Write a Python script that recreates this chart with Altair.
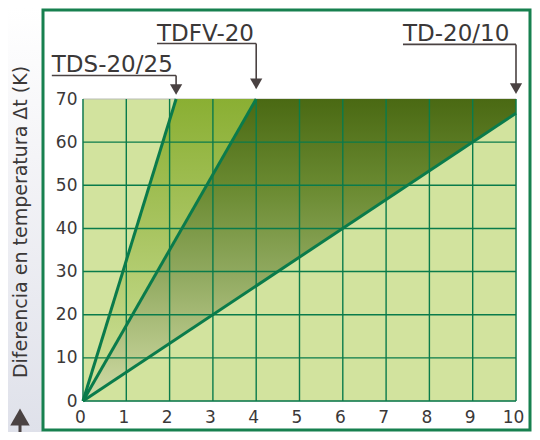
import altair as alt
import pandas as pd

# ---- data ----
x_ticks = [0, 1, 2, 3, 4, 5, 6, 7, 8, 9, 10]
y_ticks = [0, 10, 20, 30, 40, 50, 60, 70]
series = ["TDS-20/25", "TDFV-20", "TD-20/10"]
end_x = [2.15, 4.0, 10.0]
end_y = [70, 70, 66.7]

# medium band (between TDS-20/25 and TDFV-20)
mid_x = [0, 2.15, 4.0]
mid_top = [0, 70, 70]
mid_bot = [0, 37.6, 70]
# dark band (between TDFV-20 and TD-20/10)
dark_x = [0, 4.0, 10.0]
dark_top = [0, 70, 70]
dark_bot = [0, 26.7, 66.7]

# annotation anchors (data units)
lab_x0 = [-0.72, 1.71, 7.39]
lab_line_y = [75.45, 82.85, 82.65]
lab_text_y = [76.3, 83.35, 83.35]
lab_head_y = [72.2, 73.5, 72.4]

FONT = "DejaVu Sans"
TXT = "#3b3838"
ARW = "#4a4242"
GREEN = "#0a7b4b"

W, H = 433, 302
xs = alt.Scale(domain=[0, 10], nice=False, zero=False)
ys = alt.Scale(domain=[0, 70], nice=False, zero=False)

one = pd.DataFrame({"a": [0]})

strip = alt.Chart(one).mark_rect(
    fill=alt.LinearGradient(gradient="linear", x1=0, y1=0, x2=0, y2=1,
                            stops=[alt.GradientStop(color="#ffffff", offset=0),
                                   alt.GradientStop(color="#f4f4f7", offset=0.35),
                                   alt.GradientStop(color="#dfe1ea", offset=1)]),
).encode(x=alt.value(-75), x2=alt.value(-41), y=alt.value(-91), y2=alt.value(333))

frame = alt.Chart(one).mark_rect(fill="white", stroke="#17804f", strokeWidth=3).encode(
    x=alt.value(-40), x2=alt.value(447), y=alt.value(-89), y2=alt.value(331))

plotbg = alt.Chart(one).mark_rect(fill="#d2e39e", stroke="#b9bdb5", strokeWidth=1).encode(
    x=alt.value(0), x2=alt.value(W), y=alt.value(0), y2=alt.value(H))

mid_df = pd.DataFrame({"x": mid_x, "top": mid_top, "bot": mid_bot})
mid = alt.Chart(mid_df).mark_area(
    color=alt.LinearGradient(gradient="linear", x1=0, y1=0, x2=0, y2=1,
                             stops=[alt.GradientStop(color="#8aaf33", offset=0),
                                    alt.GradientStop(color="#a8c460", offset=0.43),
                                    alt.GradientStop(color="#b7d077", offset=0.64),
                                    alt.GradientStop(color="#c8dc90", offset=0.86),
                                    alt.GradientStop(color="#d0e29e", offset=1)]),
    opacity=1,
).encode(x=alt.X("x:Q", scale=xs), y=alt.Y("top:Q", scale=ys), y2="bot:Q")

dark_df = pd.DataFrame({"x": dark_x, "top": dark_top, "bot": dark_bot})
dark = alt.Chart(dark_df).mark_area(
    color=alt.LinearGradient(gradient="linear", x1=0, y1=0, x2=0, y2=1,
                             stops=[alt.GradientStop(color="#4a6913", offset=0),
                                    alt.GradientStop(color="#6b8b32", offset=0.3),
                                    alt.GradientStop(color="#8fa85e", offset=0.57),
                                    alt.GradientStop(color="#bccb8e", offset=0.86),
                                    alt.GradientStop(color="#d0dca8", offset=1)]),
    opacity=1,
).encode(x=alt.X("x:Q", scale=xs), y=alt.Y("top:Q", scale=ys), y2="bot:Q")

gx = alt.Chart(pd.DataFrame({"v": x_ticks})).mark_rule(color=GREEN, strokeWidth=1.4).encode(
    x=alt.X("v:Q", scale=xs), y=alt.value(0), y2=alt.value(H))
gy = alt.Chart(pd.DataFrame({"v": y_ticks[:-1]})).mark_rule(color=GREEN, strokeWidth=1.4).encode(
    y=alt.Y("v:Q", scale=ys), x=alt.value(0), x2=alt.value(W))

rows = []
for s, ex, ey in zip(series, end_x, end_y):
    rows.append({"s": s, "x": 0, "y": 0})
    rows.append({"s": s, "x": ex, "y": ey})
lines = alt.Chart(pd.DataFrame(rows)).mark_line(color=GREEN, strokeWidth=3).encode(
    x=alt.X("x:Q", scale=xs), y=alt.Y("y:Q", scale=ys), detail="s:N")

ann = pd.DataFrame({"s": series, "x0": lab_x0, "x1": end_x, "ly": lab_line_y,
                    "ty": lab_text_y, "hy": lab_head_y})
under = alt.Chart(ann).mark_rule(color=ARW, strokeWidth=1.6).encode(
    x=alt.X("x0:Q", scale=xs), x2="x1:Q", y=alt.Y("ly:Q", scale=ys))
shaft = alt.Chart(ann).mark_rule(color=ARW, strokeWidth=1.6).encode(
    x=alt.X("x1:Q", scale=xs), y=alt.Y("ly:Q", scale=ys), y2="hy:Q")
head = alt.Chart(ann).mark_point(shape="triangle-down", filled=True, color=ARW,
                                 size=150, opacity=1).encode(
    x=alt.X("x1:Q", scale=xs), y=alt.Y("hy:Q", scale=ys))
labels = alt.Chart(ann).mark_text(align="left", baseline="alphabetic", font=FONT,
                                  fontSize=23, color=TXT).encode(
    x=alt.X("x0:Q", scale=xs), y=alt.Y("ty:Q", scale=ys), text="s:N")

ytitle = alt.Chart(one).mark_text(angle=270, align="center", baseline="middle", font=FONT,
                                  fontSize=19, color=TXT).encode(
    x=alt.value(-62), y=alt.value(123), text=alt.value("Diferencia en temperatura Δt (K)"))
upshaft = alt.Chart(one).mark_rule(color=ARW, strokeWidth=3).encode(
    x=alt.value(-63), y=alt.value(318), y2=alt.value(334))
uphead = alt.Chart(one).mark_point(shape="triangle-up", filled=True, color=ARW,
                                   size=380, opacity=1).encode(
    x=alt.value(-63), y=alt.value(318))

axes = alt.Chart(one).mark_point(opacity=0).encode(
    x=alt.X("a:Q", scale=xs, title=None,
            axis=alt.Axis(values=x_ticks, grid=False, domain=False, ticks=False, zindex=1,
                          labelFont=FONT, labelFontSize=17,
                          labelColor=TXT, labelPadding=8, labelOffset=-3, labelFlush=False)),
    y=alt.Y("a:Q", scale=ys, title=None,
            axis=alt.Axis(values=y_ticks, grid=False, domain=False, ticks=False, zindex=1,
                          labelFont=FONT, labelFontSize=17,
                          labelColor=TXT, labelPadding=6, labelFlush=False)),
)

chart = alt.layer(strip, frame, plotbg, mid, dark, gx, gy, lines, under, shaft, head,
                  labels, ytitle, upshaft, uphead, axes).properties(
    width=W, height=H,
    autosize=alt.AutoSizeParams(type="none"),
    padding={"left": 75, "top": 91, "right": 16, "bottom": 31},
).configure_view(stroke=None)

chart.save("out.html", embed_options={"renderer": "svg", "actions": False})
